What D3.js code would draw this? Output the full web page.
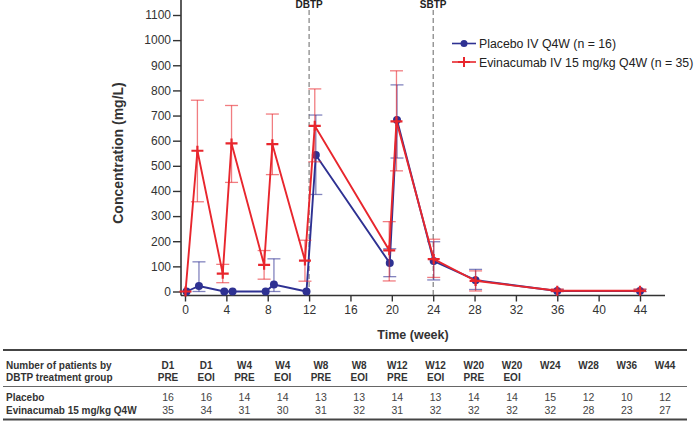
<!DOCTYPE html>
<html>
<head>
<meta charset="utf-8">
<script src="https://cdn.jsdelivr.net/npm/d3@7"></script>
<style>
  body { margin: 0; background: #fff; }
  svg { display: block; font-family: "Liberation Sans", Arial, sans-serif; }
</style>
</head>
<body>
<svg id="chart" width="695" height="422"></svg>
<script>
// ---------------- DATA ----------------
const visits = ["D1 PRE","D1 EOI","W4 PRE","W4 EOI","W8 PRE","W8 EOI","W12 PRE","W12 EOI","W20 PRE","W20 EOI","W24","W28","W36","W44"];

const placeboWeeks = [0.15, 1.35, 3.8, 4.6, 7.8, 8.6, 11.75, 12.65, 19.8, 20.5, 24.05, 28.1, 36, 44];
const placeboMean  = [0, 22, 0, 0, 0, 28, 0, 543, 113, 682, 121, 45, 2, 2];
const placeboUpper = [0, 118, 0, 0, 0, 130, 0, 702, 170, 822, 198, 88, 8, 8];
const placeboLower = [0, 0, 0, 0, 0, 0, 0, 386, 59, 531, 46, 8, 0, 0];

const evinWeeks = [0.05, 1.2, 3.65, 4.5, 7.65, 8.45, 11.6, 12.55, 19.75, 20.45, 24.05, 28.1, 36, 44];
const evinMean  = [0, 560, 71, 589, 106, 586, 123, 659, 164, 677, 129, 42, 3, 3];
const evinUpper = [0, 761, 108, 740, 163, 706, 204, 806, 278, 878, 208, 82, 10, 10];
const evinLower = [0, 357, 35, 434, 49, 465, 41, 516, 42, 480, 56, 2, 0, 0];

const placeboN = [16, 16, 14, 14, 13, 13, 14, 13, 14, 14, 15, 12, 10, 12];
const evinN    = [35, 34, 31, 30, 31, 32, 31, 32, 32, 32, 32, 28, 23, 27];

const xTicks = [0, 4, 8, 12, 16, 20, 24, 28, 32, 36, 40, 44];
const yTicks = [0, 100, 200, 300, 400, 500, 600, 700, 800, 900, 1000, 1100];
const periodLines = [{week: 12, label: "DBTP"}, {week: 24, label: "SBTP"}];

const seriesNames = ["Placebo IV Q4W (n = 16)", "Evinacumab IV 15 mg/kg Q4W (n = 35)"];
const tableHeader = ["Number of patients by", "DBTP treatment group"];
const rowNames = ["Placebo", "Evinacumab 15 mg/kg Q4W"];

// ---------------- STYLE ----------------
const BLUE = "#2e3192";
const RED = "#e8262d";
const AX = "#333333";

const svg = d3.select("#chart");
const x = d3.scaleLinear().domain([0, 44]).range([185, 640]);
const y = d3.scaleLinear().domain([0, 1100]).range([291.5, 15]);

// axes
const yAxisX = 181, xAxisY = 295.5;
const yAxis = svg.append("g").attr("transform", `translate(${yAxisX},0)`)
  .call(d3.axisLeft(y).tickValues(yTicks).tickFormat(d3.format("d")).tickSize(8).tickPadding(2).tickSizeOuter(0));
yAxis.select(".domain").attr("d", `M0,0V${xAxisY}`);
const xAxis = svg.append("g").attr("transform", `translate(0,${xAxisY})`)
  .call(d3.axisBottom(x).tickValues(xTicks).tickFormat(d3.format("d")).tickSize(6).tickPadding(4).tickSizeOuter(0));
xAxis.select(".domain").attr("d", `M${yAxisX},0H665`);
[yAxis, xAxis].forEach(g => {
  g.selectAll(".domain").attr("stroke", AX).attr("stroke-width", 1.6);
  g.selectAll(".tick line").attr("stroke", AX).attr("stroke-width", 1.4);
  g.selectAll(".tick text").attr("fill", "#333").style("font-size", "12px")
    .style("font-family", "'Liberation Sans', Arial, sans-serif");
});

svg.append("text").attr("transform", `translate(123,153) rotate(-90)`)
  .attr("text-anchor", "middle").attr("font-weight", "bold").attr("font-size", 14)
  .attr("fill", "#333").text("Concentration (mg/L)");
svg.append("text").attr("x", 413).attr("y", 339).attr("text-anchor", "middle")
  .attr("font-weight", "bold").attr("font-size", 12.5).attr("fill", "#333").text("Time (week)");

// period dashed lines
periodLines.forEach(p => {
  svg.append("line").attr("x1", x(p.week)).attr("x2", x(p.week)).attr("y1", 10).attr("y2", xAxisY)
    .attr("stroke", "#666").attr("stroke-width", 1).attr("stroke-dasharray", "5,3");
  svg.append("text").attr("x", x(p.week)).attr("y", 8).attr("text-anchor", "middle")
    .attr("font-weight", "bold").attr("font-size", 10).attr("fill", "#222").text(p.label);
});

function drawSeries(weeks, mean, upper, lower, color, marker) {
  const pts = weeks.map((w, i) => ({w, m: mean[i], u: upper[i], l: lower[i]}));
  const g = svg.append("g");
  // error bars
  const eb = g.selectAll("g.eb").data(pts.filter(d => d.u !== d.l)).join("g")
    .attr("stroke", color).attr("stroke-opacity", 0.6).attr("stroke-width", 1.3);
  eb.append("line").attr("x1", d => x(d.w)).attr("x2", d => x(d.w))
    .attr("y1", d => y(d.u)).attr("y2", d => y(d.l));
  eb.append("line").attr("x1", d => x(d.w) - 6.5).attr("x2", d => x(d.w) + 6.5)
    .attr("y1", d => y(d.u)).attr("y2", d => y(d.u));
  eb.append("line").attr("x1", d => x(d.w) - 6.5).attr("x2", d => x(d.w) + 6.5)
    .attr("y1", d => y(d.l)).attr("y2", d => y(d.l));
  // line
  g.append("path").datum(pts)
    .attr("d", d3.line().x(d => x(d.w)).y(d => y(d.m)))
    .attr("fill", "none").attr("stroke", color).attr("stroke-width", 1.9);
  // markers
  if (marker === "circle") {
    g.selectAll("circle").data(pts).join("circle")
      .attr("cx", d => x(d.w)).attr("cy", d => y(d.m)).attr("r", 4).attr("fill", color);
  } else {
    g.selectAll("path.plus").data(pts).join("path").attr("class", "plus")
      .attr("d", d => `M${x(d.w) - 6},${y(d.m)}H${x(d.w) + 6}M${x(d.w)},${y(d.m) - 5}V${y(d.m) + 5}`)
      .attr("stroke", color).attr("stroke-width", 2.2).attr("fill", "none");
  }
}
drawSeries(placeboWeeks, placeboMean, placeboUpper, placeboLower, BLUE, "circle");
drawSeries(evinWeeks, evinMean, evinUpper, evinLower, RED, "plus");

// legend
const leg = svg.append("g");
[[BLUE, "circle", 43.5], [RED, "plus", 62]].forEach(([c, m, ly], i) => {
  leg.append("line").attr("x1", 452).attr("x2", 476).attr("y1", ly).attr("y2", ly)
    .attr("stroke", c).attr("stroke-width", 1.6);
  if (m === "circle") leg.append("circle").attr("cx", 464).attr("cy", ly).attr("r", 3.5).attr("fill", c);
  else leg.append("path").attr("d", `M458,${ly}H470M464,${ly - 5}V${ly + 5}`)
    .attr("stroke", c).attr("stroke-width", 2);
  leg.append("text").attr("x", 479).attr("y", ly + 4.5).attr("font-size", 12.3)
    .attr("fill", "#222").text(seriesNames[i]);
});

// table
const col = d3.scalePoint().domain(visits).range([168, 665]);
const tbl = svg.append("g");
tbl.append("line").attr("x1", 3).attr("x2", 687).attr("y1", 350).attr("y2", 350).attr("stroke", "#444").attr("stroke-width", 1.8);
tbl.append("line").attr("x1", 3).attr("x2", 687).attr("y1", 386.5).attr("y2", 386.5).attr("stroke", "#666").attr("stroke-width", 1);
tbl.append("line").attr("x1", 3).attr("x2", 687).attr("y1", 419.5).attr("y2", 419.5).attr("stroke", "#444").attr("stroke-width", 1.8);
tableHeader.forEach((t, i) => tbl.append("text").attr("x", 6).attr("y", 369 + i * 12)
  .attr("font-size", 10).attr("font-weight", "bold").attr("fill", "#333").text(t));
visits.forEach(v => {
  const parts = v.split(" ");
  parts.forEach((p, i) => tbl.append("text").attr("x", col(v)).attr("y", 369 + i * 12)
    .attr("text-anchor", "middle").attr("font-size", 10).attr("font-weight", "bold").attr("fill", "#333").text(p));
});
[[placeboN, 401], [evinN, 414]].forEach(([arr, ry], r) => {
  tbl.append("text").attr("x", 6).attr("y", ry).attr("font-size", 10).attr("font-weight", "bold")
    .attr("fill", "#333").text(rowNames[r]);
  arr.forEach((n, i) => tbl.append("text").attr("x", col(visits[i])).attr("y", ry)
    .attr("text-anchor", "middle").attr("font-size", 10.5).attr("fill", "#444").text(n));
});
</script>
</body>
</html>
